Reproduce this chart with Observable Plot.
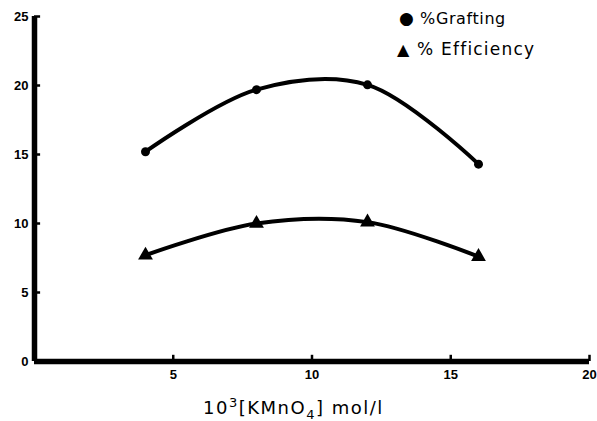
<!DOCTYPE html>
<html>
<head>
<meta charset="utf-8">
<script src="https://cdn.jsdelivr.net/npm/d3@7"></script>
<script src="https://cdn.jsdelivr.net/npm/@observablehq/plot@0.6"></script>
<style>
  html, body { margin: 0; padding: 0; background: #fff; }
  #wrap { position: relative; width: 597px; height: 421px; }
  .legend { position: absolute; font-family: "DejaVu Sans", sans-serif; font-size: 16px; color: #000; line-height: 1; letter-spacing: 0.6px; white-space: nowrap; }
  .xlabel { position: absolute; font-family: "DejaVu Sans", sans-serif; font-size: 18px; color: #000; letter-spacing: 1.5px; white-space: nowrap; }
</style>
</head>
<body>
<div id="wrap"></div>
<script>
// Data
const concentration = [4, 8, 12, 16];           // 10^3 [KMnO4] mol/l
const grafting = [15.2, 19.7, 20.05, 14.3];     // % Grafting
const efficiency = [7.7, 10.0, 10.1, 7.6];      // % Efficiency
const xTicks = [5, 10, 15, 20];
const yTicks = [0, 5, 10, 15, 20, 25];
const seriesNames = ["%Grafting", "% Efficiency"];

const graftData = concentration.map((x, i) => ({x, y: grafting[i]}));
const effData = concentration.map((x, i) => ({x, y: efficiency[i]}));

const chart = Plot.plot({
  width: 597,
  height: 421,
  marginLeft: 34,
  marginRight: 8,
  marginTop: 16,
  marginBottom: 60,
  style: {fontFamily: "Liberation Sans, Arial, sans-serif", fontWeight: "bold", fontSize: "13px", color: "#000", background: "#fff"},
  x: {domain: [0, 20]},
  y: {domain: [0, 25]},
  marks: [
    Plot.axisX(xTicks, {tickSize: 0, tickPadding: 8, label: null, fontWeight: "bold", fontSize: 13}),
    Plot.axisY(yTicks, {tickSize: 0, tickPadding: 6, label: null, fontWeight: "bold", fontSize: 13}),
    Plot.ruleX(xTicks, {y1: 0, y2: 0.45, stroke: "#000", strokeWidth: 2.5}),
    Plot.ruleY(yTicks.filter(d => d > 0), {x1: 0, x2: 0.22, stroke: "#000", strokeWidth: 2.5}),
    Plot.ruleX([0], {y1: 0, y2: 25, stroke: "#000", strokeWidth: 5.5}),
    Plot.ruleY([0], {x1: 0, x2: 20, stroke: "#000", strokeWidth: 5.5}),
    Plot.line(graftData, {x: "x", y: "y", curve: "catmull-rom", stroke: "#000", strokeWidth: 4}),
    Plot.line(effData, {x: "x", y: "y", curve: "catmull-rom", stroke: "#000", strokeWidth: 4}),
    Plot.dot(graftData, {x: "x", y: "y", r: 4.5, fill: "#000", symbol: "circle"}),
    Plot.dot(effData, {x: "x", y: "y", r: 5.5, fill: "#000", symbol: "triangle"})
  ]
});

const wrap = document.getElementById("wrap");
wrap.appendChild(chart);

const leg1 = document.createElement("div");
leg1.className = "legend";
leg1.style.left = "399px"; leg1.style.top = "10px";
leg1.innerHTML = `<span style="font-size:17px">●</span> ${seriesNames[0]}`;
wrap.appendChild(leg1);

const leg2 = document.createElement("div");
leg2.className = "legend";
leg2.style.left = "397px"; leg2.style.top = "41px";
leg2.style.fontSize = "17px"; leg2.style.letterSpacing = "1.2px";
leg2.innerHTML = `<span style="font-size:16px">▲</span> ${seriesNames[1]}`;
wrap.appendChild(leg2);

const xl = document.createElement("div");
xl.className = "xlabel";
xl.style.left = "203px"; xl.style.top = "395px";
xl.innerHTML = "10<sup style='font-size:13px'>3</sup>[KMnO<sub style='font-size:13px'>4</sub>] mol/l";
wrap.appendChild(xl);
</script>
</body>
</html>
